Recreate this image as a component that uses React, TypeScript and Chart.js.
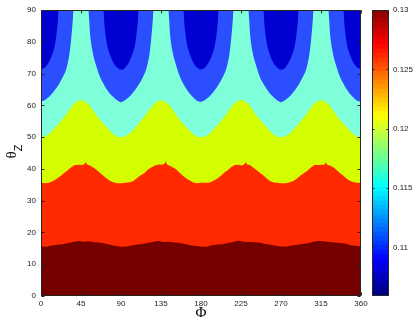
import React, { useEffect, useRef } from 'react';
import { Chart, registerables } from 'chart.js';
Chart.register(...registerables);

// ---------- axis ticks ----------
const phiTicks = [0, 45, 90, 135, 180, 225, 270, 315, 360];
const thetaTicks = [0, 10, 20, 30, 40, 50, 60, 70, 80, 90];
const cbTicks = [0.11, 0.115, 0.12, 0.125, 0.13];
const cbMin = 0.1059;
const cbMax = 0.13;

// ---------- contour boundaries (theta_Z vs Phi) ----------
// boundary between dark red and red
const b1Phi = [0,6,12,18,24,30,36,42,48,54,60,66,72,78,84,
  90,96,102,108,114,120,126,132,138,144,150,156,162,168,174,
  180,186,192,198,204,210,216,222,228,234,240,246,252,258,264,
  270,276,282,288,294,300,306,312,318,324,330,336,342,348,354,360];
const b1Val = [15.6,15.5,15.9,16.1,16.3,16.6,17.0,17.3,17.1,17.2,16.9,16.8,16.5,16.1,15.7,
  15.5,15.6,15.9,16.2,16.4,16.7,17.1,17.3,17.0,17.1,16.8,16.7,16.4,16.0,15.7,
  15.6,15.5,16.0,16.2,16.3,16.7,17.0,17.4,17.1,17.0,16.9,16.8,16.4,16.1,15.8,
  15.6,15.6,15.9,16.1,16.4,16.6,17.1,17.3,17.2,17.0,16.8,16.7,16.5,16.0,15.8,15.6];

// boundary between red and yellow
const b2Phi = [0,5,10,14,18,22,26,30,34,38,42,46,49,50.5,52,55,58,62,66,70,74,78,82,86,
  90,95,100,104,108,112,116,120,124,128,132,136,139,140.5,142,145,148,152,156,160,164,168,172,176,
  180,185,190,194,198,202,206,210,214,218,222,226,229,230.5,232,235,238,242,246,250,254,258,262,266,
  270,275,280,284,288,292,296,300,304,308,312,316,319,320.5,322,325,328,332,336,340,344,348,352,356,360];
const b2Val = [35.6,35.5,35.7,36.3,37.0,37.8,38.7,39.6,40.5,41.2,41.3,41.2,41.5,42.2,41.4,41.1,40.6,39.8,38.9,37.9,37.0,36.2,35.7,35.5,
  35.5,35.6,35.8,36.2,37.1,37.9,38.6,39.7,40.4,41.1,41.4,41.3,41.6,42.3,41.3,41.0,40.5,39.9,38.8,37.8,36.9,36.3,35.6,35.5,
  35.6,35.6,35.7,36.3,36.9,37.8,38.8,39.6,40.6,41.2,41.3,41.1,41.5,42.2,41.4,41.2,40.6,39.7,38.9,38.0,37.0,36.1,35.7,35.6,
  35.5,35.5,35.8,36.2,37.0,37.9,38.7,39.5,40.5,41.3,41.2,41.3,41.4,42.1,41.3,41.1,40.7,39.8,38.8,37.9,36.9,36.2,35.8,35.6,35.6];

// boundary between yellow and cyan
const b3Phi = [0,5,9,13,17,21,25,29,33,37,41,45,49,53,57,61,65,69,73,77,81,85,
  90,95,99,103,107,111,115,119,123,127,131,135,139,143,147,151,155,159,163,167,171,175,
  180,185,189,193,197,201,205,209,213,217,221,225,229,233,237,241,245,249,253,257,261,265,
  270,275,279,283,287,291,295,299,303,307,311,315,319,323,327,331,335,339,343,347,351,355,360];
const b3Val = [50.0,50.3,51.0,52.1,53.4,54.6,55.9,57.4,59.0,60.4,61.3,61.6,61.3,60.4,59.0,57.4,55.9,54.6,53.4,52.1,51.0,50.3,
  50.0,50.3,51.1,52.0,53.3,54.7,56.0,57.5,59.0,60.3,61.3,61.6,61.2,60.4,59.1,57.4,55.8,54.5,53.3,52.1,51.0,50.3,
  50.0,50.2,51.0,52.1,53.4,54.6,55.9,57.4,59.1,60.4,61.3,61.7,61.3,60.5,59.0,57.3,55.9,54.6,53.4,52.0,51.0,50.3,
  50.0,50.3,51.0,52.1,53.3,54.6,55.9,57.4,59.0,60.4,61.2,61.6,61.3,60.4,59.0,57.4,55.8,54.6,53.4,52.1,51.0,50.3,50.0];

// boundary between cyan and light blue
const b4Phi = [0,4,12,20.5,25,29,32.5,34.5,35.8,36.5,53.3,54.2,55.2,57.8,62.6,66,70.2,76,81.4,86,
  90,94,102,110.5,115,119,122.5,124.5,125.8,126.5,143.3,144.2,145.2,147.8,152.6,156,160.2,166,171.4,176,
  180,184,192,200.5,205,209,212.5,214.5,215.8,216.5,233.3,234.2,235.2,237.8,242.6,246,250.2,256,261.4,266,
  270,274,282,290.5,295,299,302.5,304.5,305.8,306.5,323.3,324.2,325.2,327.8,332.6,336,340.2,346,351.4,356,360];
const b4Val = [61.2,61.6,63.6,66.8,69.2,72.0,77.2,82.5,87.0,90,90,87.0,82.5,77.2,72.0,69.2,66.8,64.2,62.6,61.5,
  61.0,61.5,63.5,66.8,69.1,72.0,77.1,82.5,87.0,90,90,87.0,82.4,77.2,72.1,69.2,66.7,64.2,62.5,61.4,
  61.1,61.6,63.6,66.9,69.2,72.1,77.2,82.6,87.0,90,90,87.1,82.5,77.1,72.0,69.1,66.8,64.3,62.6,61.5,
  61.0,61.5,63.5,66.8,69.2,72.0,77.2,82.5,87.0,90,90,87.0,82.5,77.2,72.0,69.2,66.8,64.2,62.5,61.4,61.2];

// boundary between light blue and dark blue
const b5Phi = [0,4,8.5,11.5,14,16,17.5,18.8,19.8,70.2,71.2,72.5,74,76,78.5,81.5,86,
  90,94,98.5,101.5,104,106,107.5,108.8,109.8,160.2,161.2,162.5,164,166,168.5,171.5,176,
  180,184,188.5,191.5,194,196,197.5,198.8,199.8,250.2,251.2,252.5,254,256,258.5,261.5,266,
  270,274,278.5,281.5,284,286,287.5,288.8,289.8,340.2,341.2,342.5,344,346,348.5,351.5,356,360];
const b5Val = [71.4,71.8,73.4,75.2,77.2,79.5,82.5,86,90,90,86,82.5,79.5,77.2,75.2,73.4,71.8,
  71.2,71.7,73.3,75.2,77.2,79.4,82.5,86,90,90,86,82.6,79.5,77.3,75.2,73.4,71.8,
  71.3,71.8,73.4,75.1,77.2,79.5,82.4,86,90,90,86,82.5,79.5,77.2,75.1,73.3,71.8,
  71.2,71.7,73.4,75.2,77.2,79.5,82.5,86,90,90,86,82.5,79.4,77.2,75.2,73.4,71.8,71.4];

// top of the plot (dark blue region)
const topPhi = [0, 360];
const topVal = [90, 90];

// ---------- colours ----------
const colDarkRed = '#740000';
const colRed = '#FF2A00';
const colYellow = '#D4FF00';
const colCyan = '#7EFFDA';
const colLightBlue = '#2B4EFF';
const colDarkBlue = '#0000D0';

function jet(t: number): string {
  const c = (v: number) => Math.round(255 * Math.max(0, Math.min(1, v)));
  const r = c(1.5 - Math.abs(4 * t - 3));
  const g = c(1.5 - Math.abs(4 * t - 2));
  const b = c(1.5 - Math.abs(4 * t - 1));
  return `rgb(${r},${g},${b})`;
}

const pts = (xs: number[], ys: number[]) => xs.map((x, i) => ({ x, y: ys[i] }));

const tickFont = { family: '"Liberation Sans", Arial, sans-serif', size: 8 };
const axisColor = '#262626';

const mainPlugin = {
  id: 'mainDecor',
  afterDraw(chart: any) {
    const { ctx, chartArea: a, scales } = chart;
    ctx.save();
    ctx.strokeStyle = axisColor;
    ctx.lineWidth = 1;
    const L = Math.floor(a.left) + 0.5;
    const R = Math.ceil(a.right) - 0.5;
    const T = Math.floor(a.top) + 0.5;
    const B = Math.ceil(a.bottom) - 0.5;
    ctx.beginPath();
    ctx.rect(L, T, R - L, B - T);
    const tl = 3;
    phiTicks.forEach((v) => {
      const px = Math.round(scales.x.getPixelForValue(v)) + 0.5;
      ctx.moveTo(px, B); ctx.lineTo(px, B - tl);
      ctx.moveTo(px, T); ctx.lineTo(px, T + tl);
    });
    thetaTicks.forEach((v) => {
      const py = Math.round(scales.y.getPixelForValue(v)) + 0.5;
      ctx.moveTo(L, py); ctx.lineTo(L + tl, py);
      ctx.moveTo(R, py); ctx.lineTo(R - tl, py);
    });
    ctx.stroke();
    // axis titles
    ctx.fillStyle = '#000';
    ctx.textAlign = 'center';
    ctx.textBaseline = 'middle';
    ctx.font = '15px "Liberation Serif", "DejaVu Serif", serif';
    ctx.fillText('\u03A6', (a.left + a.right) / 2, 313);
    ctx.translate(12.5, 155);
    ctx.rotate(-Math.PI / 2);
    ctx.font = '15px "Liberation Serif", "DejaVu Serif", serif';
    ctx.fillText('\u03B8', 0, 0);
    ctx.font = '11px "Liberation Sans", Arial, sans-serif';
    ctx.fillText('Z', 7, 6);
    ctx.restore();
  },
};

const cbPlugin = {
  id: 'cbDecor',
  afterDraw(chart: any) {
    const { ctx, chartArea: a, scales } = chart;
    ctx.save();
    ctx.strokeStyle = axisColor;
    ctx.lineWidth = 1;
    const L = Math.floor(a.left) + 0.5;
    const R = Math.ceil(a.right) - 0.5;
    const T = Math.floor(a.top) + 0.5;
    const B = Math.ceil(a.bottom) - 0.5;
    ctx.beginPath();
    ctx.rect(L, T, R - L, B - T);
    cbTicks.forEach((v) => {
      const py = Math.round(scales.y.getPixelForValue(v)) + 0.5;
      ctx.moveTo(L, py); ctx.lineTo(L + 2, py);
      ctx.moveTo(R, py); ctx.lineTo(R - 2, py);
    });
    ctx.stroke();
    ctx.restore();
  },
};

export default function App() {
  const mainRef = useRef<HTMLCanvasElement>(null);
  const cbRef = useRef<HTMLCanvasElement>(null);

  useEffect(() => {
    const mk = (xs: number[], ys: number[], color: string, smooth: boolean) => ({
      data: pts(xs, ys),
      backgroundColor: color,
      borderColor: 'rgba(0,0,0,0)',
      borderWidth: 0,
      pointRadius: 0,
      fill: 'start',
      tension: 0,
      cubicInterpolationMode: smooth ? 'monotone' : 'default',
    });
    const main = new Chart(mainRef.current!, {
      type: 'line',
      data: {
        datasets: [
          mk(b1Phi, b1Val, colDarkRed, false),
          mk(b2Phi, b2Val, colRed, false),
          mk(b3Phi, b3Val, colYellow, true),
          mk(b4Phi, b4Val, colCyan, true),
          mk(b5Phi, b5Val, colLightBlue, true),
          mk(topPhi, topVal, colDarkBlue, false),
        ] as any,
      },
      options: {
        animation: false,
        responsive: false,
        events: [],
        layout: { padding: { left: 0, right: 54, top: 10, bottom: 0 } },
        plugins: { legend: { display: false }, tooltip: { enabled: false } },
        scales: {
          x: {
            type: 'linear',
            min: 0,
            max: 360,
            afterBuildTicks: (s: any) => { s.ticks = phiTicks.map((v) => ({ value: v })); },
            afterFit: (s: any) => { s.height = 29; },
            grid: { display: false, drawTicks: false },
            border: { display: false },
            ticks: { font: tickFont, color: '#222', padding: 3, maxRotation: 0, autoSkip: false },
          },
          y: {
            type: 'linear',
            min: 0,
            max: 90,
            afterBuildTicks: (s: any) => { s.ticks = thetaTicks.map((v) => ({ value: v })); },
            afterFit: (s: any) => { s.width = 41; },
            grid: { display: false, drawTicks: false },
            border: { display: false },
            ticks: { font: tickFont, color: '#222', padding: 5, autoSkip: false },
          },
        },
      } as any,
      plugins: [mainPlugin],
    });

    const nLev = 64;
    const step = (cbMax - cbMin) / nLev;
    const cbSets = Array.from({ length: nLev }, (_, i) => ({
      data: [[cbMin + i * step, Math.min(cbMax, cbMin + (i + 1.3) * step)]],
      backgroundColor: jet((i + 0.5) / nLev),
      borderWidth: 0,
      barPercentage: 1,
      categoryPercentage: 1,
      grouped: false,
    }));
    const cb = new Chart(cbRef.current!, {
      type: 'bar',
      data: { labels: ['c'], datasets: cbSets as any },
      options: {
        animation: false,
        responsive: false,
        events: [],
        layout: { padding: { left: 12, right: 0, top: 10, bottom: 29 } },
        plugins: { legend: { display: false }, tooltip: { enabled: false } },
        scales: {
          x: { display: false },
          y: {
            type: 'linear',
            position: 'right',
            min: cbMin,
            max: cbMax,
            afterBuildTicks: (s: any) => { s.ticks = cbTicks.map((v) => ({ value: v })); },
            afterFit: (s: any) => { s.width = 26; },
            grid: { display: false, drawTicks: false },
            border: { display: false },
            ticks: { font: tickFont, color: '#222', padding: 4, autoSkip: false, callback: (v: any) => String(v) },
          },
        },
      } as any,
      plugins: [cbPlugin],
    });

    return () => { main.destroy(); cb.destroy(); };
  }, []);

  return (
    <div style={{ position: 'fixed', left: 0, top: 0, width: 415, height: 325, background: '#fff' }}>
      <canvas ref={mainRef} width={415} height={325} style={{ position: 'absolute', left: 0, top: 0 }} />
      <canvas ref={cbRef} width={55} height={325} style={{ position: 'absolute', left: 360, top: 0 }} />
    </div>
  );
}
